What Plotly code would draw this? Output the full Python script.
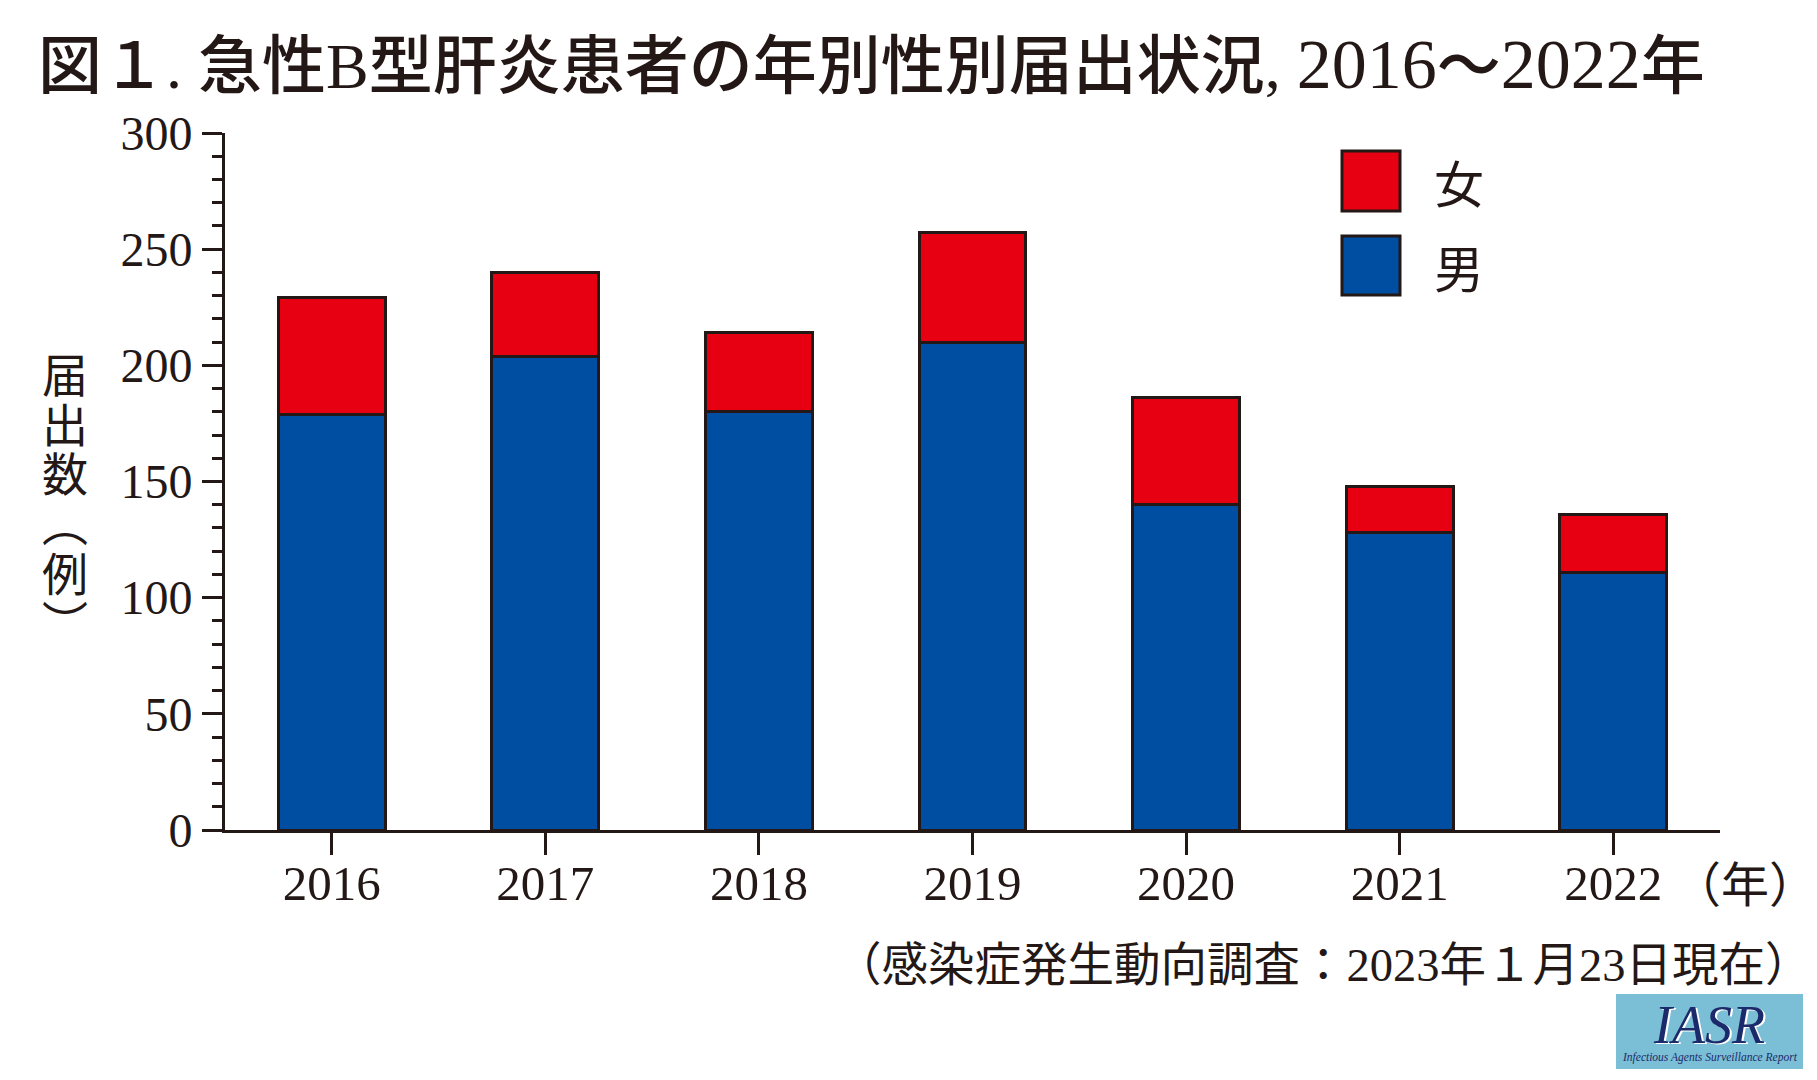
import plotly.graph_objects as go

# ---- data ----
years = ["2016", "2017", "2018", "2019", "2020", "2021", "2022"]
male = [179, 204, 180, 210, 140, 128, 111]
female = [50, 36, 34, 47, 46, 20, 25]
series_names = ["男", "女"]
title_text = ('図１. 急性B型肝炎患者の年別性別届出状況, '
              '<span style="font-size:70px">2016</span>〜'
              '<span style="font-size:70px">2022</span>年')
ytitle_chars = ["届", "出", "数", "︵", "例", "︶"]
xunit_text = "（年）"
source_text = "（感染症発生動向調査：2023年１月23日現在）"

# ---- style ----
RED = "#E60012"
BLUE = "#004EA2"
INK = "#231815"
SERIF = "Liberation Serif, Noto Sans CJK JP, serif"
CJK = "Noto Sans CJK JP, sans-serif"

W, H = 1817, 1080
L, R, T, B = 217, 1712, 125, 822


def px(x):
    return (x - L) / (R - L)


def py(y):
    return (B - y) / (B - T)


fig = go.Figure()
fig.add_trace(go.Bar(x=years, y=male, name=series_names[0],
                     marker=dict(color=BLUE, line=dict(color=INK, width=3))))
fig.add_trace(go.Bar(x=years, y=female, name=series_names[1],
                     marker=dict(color=RED, line=dict(color=INK, width=3))))

annotations = []
shapes = []

# title
annotations.append(dict(text=title_text, xref="paper", yref="paper",
                        x=px(28), y=py(56), xanchor="left", yanchor="middle",
                        showarrow=False,
                        font=dict(family=SERIF, size=64, color=INK, weight=500)))

# y axis title, vertical characters in one text block
ytitle = "<br>".join('<span style="font-size:46px">%s</span>' % c for c in ytitle_chars)
annotations.append(dict(text=ytitle, xref="paper", yref="paper",
                        x=px(57), y=py(488), xanchor="center", yanchor="middle",
                        showarrow=False,
                        font=dict(family=CJK, size=38.2, color=INK)))

# x unit
annotations.append(dict(text=xunit_text, xref="paper", yref="paper",
                        x=px(1737), y=py(873), xanchor="center", yanchor="middle",
                        showarrow=False,
                        font=dict(family=CJK, size=48, color=INK)))

# source note
annotations.append(dict(text=source_text, xref="paper", yref="paper",
                        x=px(1806), y=py(957), xanchor="right", yanchor="middle",
                        showarrow=False,
                        font=dict(family=SERIF, size=46.5, color=INK)))

# manual legend (large swatches)
leg = [(series_names[1], RED, 143, 203), (series_names[0], BLUE, 228, 287)]
for name, col, y0, y1 in leg:
    shapes.append(dict(type="rect", xref="paper", yref="paper",
                       x0=px(1334), x1=px(1392), y0=py(y1), y1=py(y0),
                       fillcolor=col, line=dict(color=INK, width=3)))
    annotations.append(dict(text=name, xref="paper", yref="paper",
                            x=px(1424), y=py((y0 + y1) / 2), xanchor="left",
                            yanchor="middle", showarrow=False,
                            font=dict(family=CJK, size=50, color=INK)))

# IASR logo
shapes.append(dict(type="rect", xref="paper", yref="paper",
                   x0=px(1608), x1=px(1795), y0=py(1061), y1=py(986),
                   fillcolor="#7BBFD6", line=dict(width=0)))
annotations.append(dict(text="<i>IASR</i>", xref="paper", yref="paper",
                        x=px(1701), y=py(1017), xanchor="center", yanchor="middle",
                        showarrow=False,
                        font=dict(family="Liberation Serif, serif", size=54,
                                  color="#1B2A6B", shadow="2px 1px 0px #ffffff")))
annotations.append(dict(text="<i>Infectious Agents Surveillance Report</i>",
                        xref="paper", yref="paper",
                        x=px(1702), y=py(1049), xanchor="center", yanchor="middle",
                        showarrow=False,
                        font=dict(family="Liberation Serif, serif", size=11.5,
                                  color="#1B2A6B")))

fig.update_layout(
    width=W, height=H,
    margin=dict(l=L, r=W - R, t=T, b=H - B, pad=0),
    paper_bgcolor="white", plot_bgcolor="white",
    barmode="stack", bargap=0.5,
    showlegend=False,
    annotations=annotations, shapes=shapes,
    font=dict(family=SERIF, color=INK),
)
fig.update_xaxes(type="category", range=[-0.5, 6.5],
                 showline=True, linecolor=INK, linewidth=3,
                 ticks="outside", ticklen=22, tickwidth=3, tickcolor=INK,
                 ticklabelstandoff=-14,
                 showgrid=False, zeroline=False,
                 tickfont=dict(family=SERIF, size=49, color=INK))
fig.update_yaxes(range=[0, 300], dtick=50, tick0=0,
                 showline=True, linecolor=INK, linewidth=3,
                 ticks="outside", ticklen=20, tickwidth=3, tickcolor=INK,
                 showgrid=False, zeroline=False,
                 minor=dict(dtick=10, ticks="outside", ticklen=10, tickwidth=2.5,
                            tickcolor=INK, showgrid=False),
                 tickfont=dict(family=SERIF, size=48, color=INK))

fig.write_html("out.html")
